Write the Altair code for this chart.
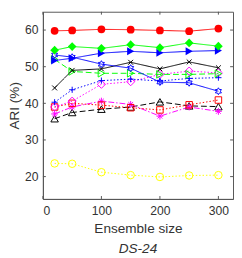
import altair as alt
import pandas as pd

sizes = [20, 50, 100, 150, 200, 250, 300]

red_circle = [59.8, 59.9, 60.2, 60.1, 59.9, 59.7, 60.4]
green_diamond = [54.5, 55.5, 55.0, 56.0, 55.2, 56.5, 55.6]
blue_tri = [51.7, 52.3, 53.7, 54.2, 53.8, 54.2, 54.4]
blue_hex = [53.2, 52.6, 50.7, 49.6, 45.8, 45.6, 43.3]
black_x = [44.2, 49.0, 49.4, 51.2, 49.4, 51.3, 49.7]
green_tri_open = [52.0, 48.7, 48.2, 48.2, 47.9, 47.9, 48.1]
blue_plus = [40.3, 43.7, 46.2, 46.6, 46.1, 46.8, 47.0]
magenta_diamond = [39.0, 40.6, 45.2, 45.9, 47.9, 48.8, 48.3]
red_square = [39.0, 40.0, 39.5, 38.8, 38.2, 39.6, 40.9]
magenta_star = [37.1, 39.0, 40.6, 39.7, 36.5, 39.0, 37.8]
black_tri_open = [35.8, 37.5, 38.4, 39.0, 40.4, 39.3, 39.1]
yellow_circle = [23.6, 23.5, 21.2, 20.4, 19.9, 20.3, 20.4]

x_ticks = [0, 100, 200, 300]
y_ticks = [20, 30, 40, 50, 60]

HEX = ("M0,-1L0.289,-0.5L0.866,-0.5L0.577,0L0.866,0.5L0.289,0.5L0,1L-0.289,0.5"
       "L-0.866,0.5L-0.577,0L-0.866,-0.5L-0.289,-0.5Z")
XSH = "M-1,-1L1,1M-1,1L1,-1"
PLUS = "M-1,0L1,0M0,-1L0,1"
AST = "M-1,0L1,0M0,-1L0,1M-0.7,-0.7L0.7,0.7M-0.7,0.7L0.7,-0.7"

SOLID = [1, 0]
DASH = [6, 3]
DOT = [1.5, 2]
DASHDOT = [6, 2, 1.5, 2]

# name, values, color, shape, filled, dash, size
series = [
    ("yellow", yellow_circle, "#FFFF00", "circle", False, DOT, 60),
    ("blacktri", black_tri_open, "#000000", "triangle-up", False, DASH, 60),
    ("mstar", magenta_star, "#FF00FF", AST, False, DASHDOT, 50),
    ("rsq", red_square, "#FF0000", "square", False, DOT, 45),
    ("mdia", magenta_diamond, "#FF00FF", "diamond", False, DOT, 70),
    ("bplus", blue_plus, "#0000FF", PLUS, False, DOT, 40),
    ("gtri", green_tri_open, "#00FF00", "triangle-right", False, DASH, 60),
    ("bx", black_x, "#000000", XSH, False, SOLID, 25),
    ("bhex", blue_hex, "#0000FF", HEX, False, SOLID, 50),
    ("btri", blue_tri, "#0000FF", "triangle-right", True, SOLID, 70),
    ("gdia", green_diamond, "#00FF00", "diamond", True, SOLID, 80),
    ("rcirc", red_circle, "#FF0000", "circle", True, SOLID, 64),
]

W, H = 196, 193
xs = alt.Scale(domain=[0, 325], nice=False, zero=False)
ys = alt.Scale(domain=[13.9, 65.0], nice=False, zero=False)
xaxis = alt.Axis(values=x_ticks, title="Ensemble size", ticks=False, grid=False,
                 labelPadding=6, titlePadding=5)
yaxis = alt.Axis(values=y_ticks, title="ARI (%)", ticks=False, grid=False,
                 labelPadding=5, titlePadding=3)

def X(f="x"):
    return alt.X(f"{f}:Q", scale=xs, axis=xaxis)

def Y(f="y"):
    return alt.Y(f"{f}:Q", scale=ys, axis=yaxis)

layers = []
for name, vals, color, shape, filled, dash, size in series:
    df = pd.DataFrame({"x": sizes, "y": vals})
    base = alt.Chart(df)
    layers.append(base.mark_line(color=color, strokeWidth=1, strokeDash=dash).encode(x=X(), y=Y()))
    layers.append(base.mark_point(shape=shape, filled=filled, color=color, size=size,
                                  strokeWidth=1, opacity=1).encode(x=X(), y=Y()))

xt = pd.DataFrame({"x": x_ticks})
yt = pd.DataFrame({"y": y_ticks})
tick_col = "#555555"
layers.append(alt.Chart(xt).mark_rule(color=tick_col).encode(x=X(), y=alt.value(H), y2=alt.value(H - 3)))
layers.append(alt.Chart(xt).mark_rule(color=tick_col).encode(x=X(), y=alt.value(0), y2=alt.value(3)))
layers.append(alt.Chart(yt).mark_rule(color=tick_col).encode(y=Y(), x=alt.value(0), x2=alt.value(3)))
layers.append(alt.Chart(yt).mark_rule(color=tick_col).encode(y=Y(), x=alt.value(W), x2=alt.value(W - 3)))

chart = alt.layer(*layers).properties(
    width=W, height=H,
    autosize=alt.AutoSizeParams(type="none"),
    padding={"left": 36, "top": 0, "right": 1, "bottom": 56},
    title=alt.TitleParams("DS-24", orient="bottom", fontStyle="italic", fontWeight="normal",
                          fontSize=14, font="Liberation Sans", color="#333333", offset=7),
).configure_view(stroke="#555555", strokeWidth=1).configure_axis(
    domainColor="#555555", labelColor="#333333", titleColor="#333333",
    labelFont="Liberation Sans", titleFont="Liberation Sans",
    labelFontSize=12.5, titleFontSize=14, titleFontWeight="normal",
)

chart.save("out.html", embed_options={"renderer": "svg", "actions": False})
